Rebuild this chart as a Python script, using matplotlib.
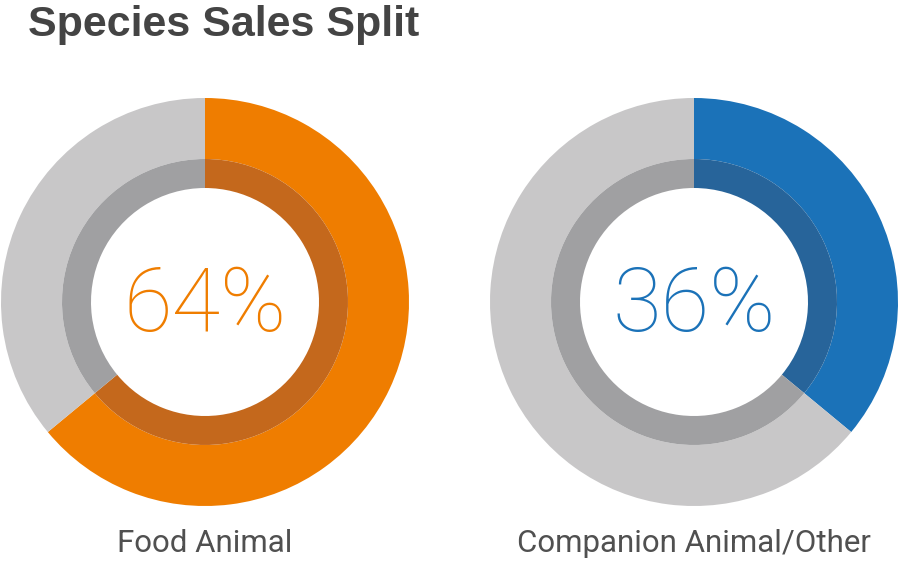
import matplotlib
matplotlib.use('Agg')
import matplotlib.pyplot as plt

# chart values
segments = ['Food Animal', 'Companion Animal/Other']
shares = [64, 36]
pct_labels = ['64%', '36%']

# styles per donut
main_colors = ['#EF7D00', '#1B72B8']
dark_colors = ['#C4681C', '#27649A']
light_gray = '#C8C7C8'
dark_gray = '#A0A0A2'
centers = [(205, 278), (694, 278)]   # pixel coords, y measured from bottom

fig = plt.figure(figsize=(9, 5.8), dpi=100)
ax = fig.add_axes([0, 0, 1, 1])

for i, share in enumerate(shares):
    vals = [share, 100 - share]
    c = centers[i]
    # outer ring
    ax.pie(vals, center=c, radius=204, startangle=90, counterclock=False,
           colors=[main_colors[i], light_gray],
           wedgeprops=dict(width=61, linewidth=0), frame=True)
    # inner darker ring
    ax.pie(vals, center=c, radius=143, startangle=90, counterclock=False,
           colors=[dark_colors[i], dark_gray],
           wedgeprops=dict(width=29, linewidth=0), frame=True)
    ax.text(c[0], c[1] - 4, pct_labels[i], ha='center', va='center',
            fontsize=64, family='Roboto', fontweight=100,
            color=main_colors[i])
    ax.text(c[0], 36, segments[i], ha='center', va='center',
            fontsize=22.5, family='Roboto', fontweight='normal', color='#505050')

ax.set_xlim(0, 900)
ax.set_ylim(0, 580)
ax.set_aspect('equal')
ax.axis('off')

fig.text(28 / 900, 1 - 25 / 580, 'Species Sales Split', ha='left', va='center',
         fontsize=31, family='Liberation Sans', fontweight='bold', color='#444444')

fig.savefig('out.png', dpi=100, facecolor='white')
